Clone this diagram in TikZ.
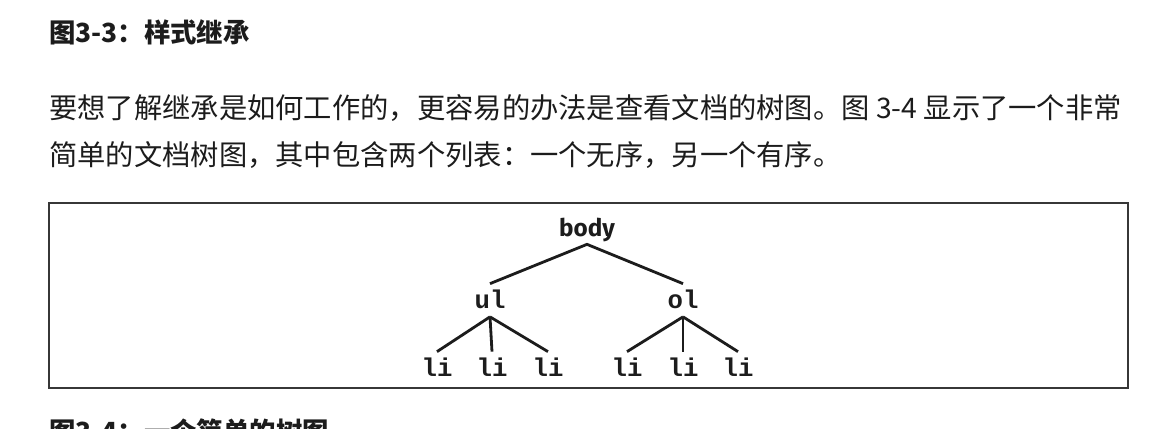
\documentclass[tikz,border=0pt]{standalone}
\usepackage{fontspec}
\usepackage{tikz}
\usetikzlibrary{positioning}
\newfontfamily\cjk{Noto Sans CJK SC}
\newfontfamily\labelsans{Fira Sans}
\newfontfamily\labelmono{Liberation Mono}
\definecolor{ink}{RGB}{28, 28, 28}
\definecolor{frame}{RGB}{55, 55, 55}

\begin{document}
\begin{tikzpicture}[
    caption/.style={anchor=west, inner sep=0pt, font=\cjk\bfseries\fontsize{15pt}{18pt}\selectfont, text=ink},
    para/.style={anchor=west, inner sep=0pt, font=\cjk\fontsize{16.1pt}{19pt}\selectfont, text=ink},
    tag/.style={anchor=base, inner sep=0pt, text height=0.5cm, text depth=0.15cm, text=ink},
    elem/.style={tag, font=\labelmono\bfseries\fontsize{14.6pt}{17pt}\selectfont},
    link/.style={line width=1.6pt, draw=ink}
]
    \useasboundingbox (0,0) rectangle (23.12,-8.58);
    \clip (0,0) rectangle (23.12,-8.58);

    \node[caption] (cap1) at (0.98,-0.64) {图3-3：样式继承};
    \node[para] (par1) at (0.98,-2.16) {要想了解继承是如何工作的，更容易的办法是查看文档的树图。图 3-4 显示了一个非常};
    \node[para] (par2) at (0.98,-3.1) {简单的文档树图，其中包含两个列表：一个无序，另一个有序。};

    % frame round the tree
    \draw[frame, line width=1.2pt] (0.98,-4.06) rectangle (22.56,-7.76);

    \node[tag, font=\labelsans\bfseries\fontsize{13.8pt}{16pt}\selectfont] (body) at (11.74,-4.73) {body};
    \node[elem] (ul) at (9.8,-6.18) {ul};
    \node[elem] (ol) at (13.66,-6.18) {ol};

    \node[elem] (li1) at (8.74,-7.54) {li};
    \node[elem] (li2) at (9.84,-7.54) {li};
    \node[elem] (li3) at (10.96,-7.54) {li};
    \node[elem] (li4) at (12.54,-7.54) {li};
    \node[elem] (li5) at (13.66,-7.54) {li};
    \node[elem] (li6) at (14.76,-7.54) {li};

    \draw[link] (ul.north) -- (body.south) -- (ol.north);
    \foreach \kid in {li1, li2, li3}
        \draw[link] (ul.south) -- (\kid.north);
    \foreach \kid in {li4, li5, li6}
        \draw[link] (ol.south) -- (\kid.north);

    \node[caption] (cap2) at (0.98,-8.62) {图3-4：一个简单的树图};
\end{tikzpicture}
\end{document}
